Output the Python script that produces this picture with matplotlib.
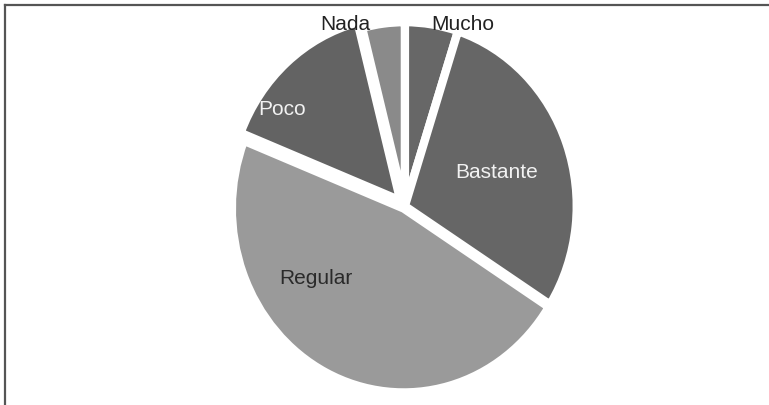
import matplotlib.pyplot as plt
from matplotlib.lines import Line2D

# Datos (porcentajes estimados del grafico)
categorias = ["Mucho", "Bastante", "Regular", "Poco", "Nada"]
valores = [5, 29, 47, 15, 4]
separacion = [0.0, 0.0, 0.015, 0.04, 0.0]
colores = ["#676767", "#666666", "#9a9a9a", "#636363", "#8a8a8a"]
color_texto = ["#222222", "#f2f2f2", "#2a2a2a", "#f2f2f2", "#222222"]

fig = plt.figure(figsize=(7.69, 4.06), dpi=100)
ax = fig.add_axes([0.303, 0.037, 0.447, 0.906])

ax.pie(valores, colors=colores, startangle=90, counterclock=False,
       explode=separacion, radius=1.0,
       wedgeprops=dict(edgecolor="white", linewidth=6))
ax.set_aspect("auto")
ax.set_xlim(-1, 1)
ax.set_ylim(-1, 1)
ax.axis("off")

# posiciones de las etiquetas (coordenadas de ejes)
pos_etiquetas = [(0.669, 0.995), (0.767, 0.595), (0.241, 0.307),
                 (0.142, 0.764), (0.326, 0.995)]
for nombre, (x, y), c in zip(categorias, pos_etiquetas, color_texto):
    ax.text(x, y, nombre, transform=ax.transAxes, ha="center", va="center",
            fontsize=15, color=c, family="Liberation Sans", clip_on=False)

# marco: solo lineas superior e izquierda
fig.add_artist(Line2D([0.0065, 1.0], [0.985, 0.985], transform=fig.transFigure,
                      color="#555555", linewidth=1.6))
fig.add_artist(Line2D([0.0065, 0.0065], [0.0, 0.985], transform=fig.transFigure,
                      color="#555555", linewidth=1.6))

fig.savefig("out.png", dpi=100)
